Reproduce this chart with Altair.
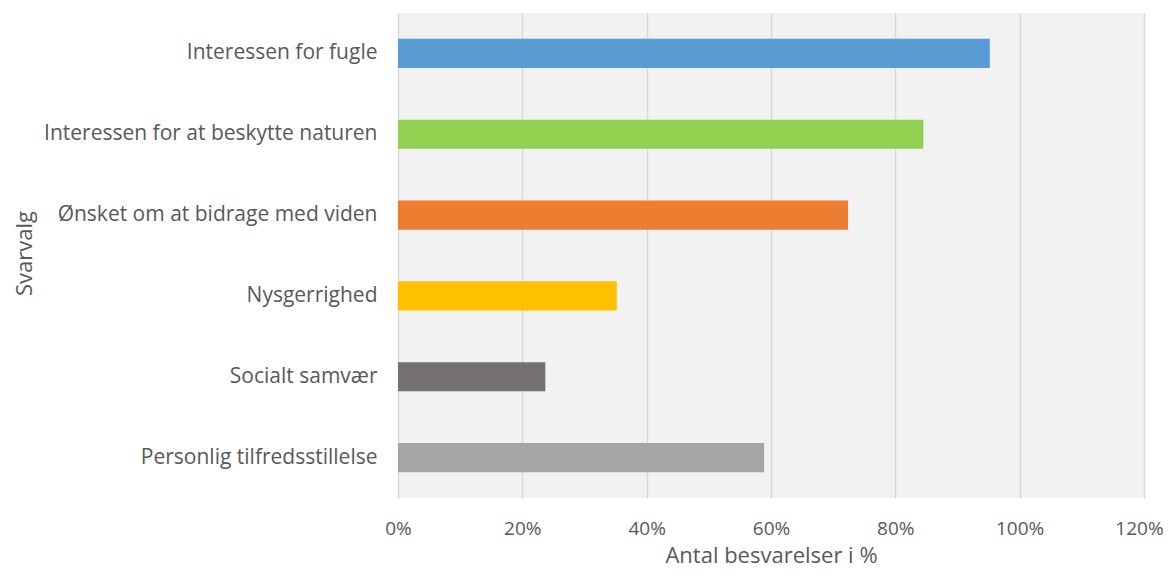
import altair as alt
import pandas as pd

categories = [
    "Interessen for fugle",
    "Interessen for at beskytte naturen",
    "Ønsket om at bidrage med viden",
    "Nysgerrighed",
    "Socialt samvær",
    "Personlig tilfredsstillelse",
]
values = [0.952, 0.845, 0.724, 0.352, 0.237, 0.589]
colors = ["#5B9BD5", "#92D050", "#ED7D31", "#FFC000", "#767171", "#A5A5A5"]
x_ticks = [0, 0.2, 0.4, 0.6, 0.8, 1.0, 1.2]

df = pd.DataFrame({"Svarvalg": categories, "value": values, "color": colors})

FONT = "Open Sans"
TXT = "#595959"

chart = alt.Chart(df).mark_bar().encode(
    y=alt.Y("Svarvalg:N", sort=categories,
            scale=alt.Scale(paddingInner=0.64, paddingOuter=0.32),
            axis=alt.Axis(title="Svarvalg", ticks=False, domain=False, grid=False,
                          labelPadding=21, labelFontSize=21, labelColor=TXT, labelFont=FONT,
                          titleFontSize=22, titleColor=TXT, titleFont=FONT, titleFontWeight="normal",
                          titleX=-374, titleY=240, titleAngle=-90, titleAlign="center",
                          titleBaseline="middle", labelLimit=400)),
    x=alt.X("value:Q", scale=alt.Scale(domain=[0, 1.2], nice=False),
            axis=alt.Axis(title="Antal besvarelser i %", format=".0%", values=x_ticks,
                          ticks=False, domain=False, grid=True, gridColor="#D9D9D9",
                          gridWidth=1.5, labelPadding=21, labelFontSize=19, labelColor=TXT,
                          labelOffset={"condition": {"test": "datum.value >= 1.19", "value": -5},
                                       "value": 0},
                          labelFont=FONT, titleFontSize=22, titleColor=TXT, titleFont=FONT,
                          titleFontWeight="normal", titlePadding=7, labelFlush=False)),
    color=alt.Color("color:N", scale=None, legend=None),
).properties(
    width=746, height=485,
    autosize=alt.AutoSizeParams(type="none"),
    padding={"left": 390, "top": 5, "right": 21, "bottom": 72},
).configure_view(fill="#F2F2F2", stroke=None)

chart.save("out.html", embed_options={"renderer": "svg", "actions": False})
